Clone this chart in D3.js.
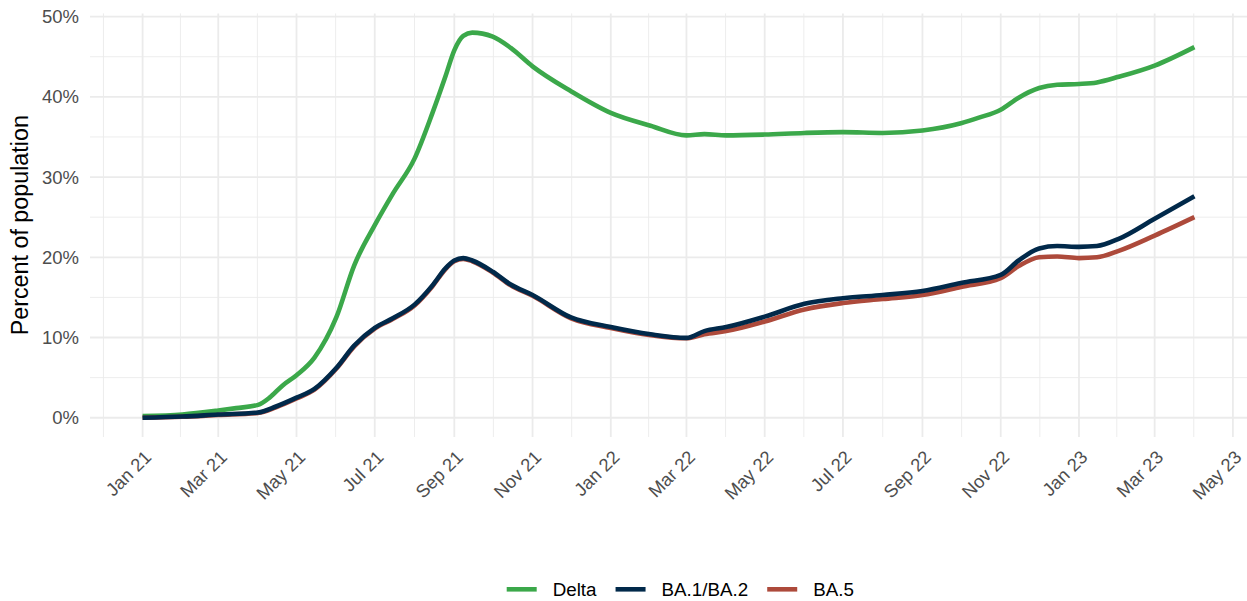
<!DOCTYPE html>
<html>
<head>
<meta charset="utf-8">
<script src="https://cdn.jsdelivr.net/npm/d3@7"></script>
<style>
body{margin:0;background:#fff;}
svg{display:block;font-family:"Liberation Sans",Arial,sans-serif;}
</style>
</head>
<body>
<svg id="chart" width="1247" height="601"></svg>
<script>
// percent of population by variant wave
var seriesNames=["Delta","BA.1/BA.2","BA.5"];
var seriesColors=["#3ba84a","#01294a","#ad4a3b"];
var yTicks=[0,10,20,30,40,50];
var xTickDates=["2021-01-01","2021-03-01","2021-05-01","2021-07-01","2021-09-01","2021-11-01","2022-01-01","2022-03-01","2022-05-01","2022-07-01","2022-09-01","2022-11-01","2023-01-01","2023-03-01","2023-05-01"];

var deltaDates=["2021-01-01","2021-02-01","2021-03-01","2021-03-15","2021-04-01","2021-04-10","2021-04-20","2021-05-01","2021-05-15","2021-06-01","2021-06-15","2021-07-01","2021-07-15","2021-08-01","2021-08-15","2021-08-25","2021-09-01","2021-09-08","2021-09-15","2021-10-01","2021-10-15","2021-11-01","2021-12-01","2022-01-01","2022-02-01","2022-03-01","2022-03-15","2022-04-01","2022-05-01","2022-06-01","2022-07-01","2022-08-01","2022-09-01","2022-10-01","2022-10-15","2022-11-01","2022-11-15","2022-12-01","2022-12-15","2023-01-01","2023-01-15","2023-02-01","2023-03-01","2023-04-01"];
var deltaVals=[0.2,0.4,0.9,1.2,1.6,2.5,4.0,5.3,7.5,12.5,19.0,24.0,27.9,32.3,38.0,42.5,45.8,47.6,48.0,47.5,46.1,43.8,40.7,38.0,36.4,35.2,35.35,35.2,35.3,35.5,35.6,35.5,35.8,36.7,37.4,38.4,39.9,41.1,41.5,41.6,41.8,42.5,43.9,46.2];

var baDates=["2021-01-01","2021-02-01","2021-03-01","2021-04-01","2021-04-15","2021-05-01","2021-05-15","2021-06-01","2021-06-15","2021-07-01","2021-07-15","2021-08-01","2021-08-15","2021-08-25","2021-09-01","2021-09-08","2021-09-15","2021-10-01","2021-10-15","2021-11-01","2021-12-01","2022-01-01","2022-02-01","2022-03-01","2022-03-15","2022-04-01","2022-05-01","2022-06-01","2022-07-01","2022-08-01","2022-09-01","2022-10-01","2022-11-01","2022-11-15","2022-12-01","2022-12-15","2023-01-01","2023-01-15","2023-02-01","2023-03-01","2023-04-01"];
var ba12Vals=[0.0,0.15,0.4,0.65,1.4,2.5,3.6,6.2,9.0,11.2,12.4,14.1,16.5,18.6,19.6,19.9,19.6,18.2,16.6,15.3,12.5,11.3,10.4,9.95,10.8,11.3,12.6,14.2,14.9,15.3,15.8,16.8,17.8,19.6,21.1,21.4,21.3,21.4,22.3,24.8,27.6];
var ba5Vals=[0.0,0.12,0.35,0.6,1.3,2.4,3.5,6.1,8.9,11.1,12.3,14.0,16.4,18.5,19.5,19.8,19.5,18.1,16.5,15.2,12.4,11.2,10.3,9.9,10.4,10.8,12.0,13.5,14.3,14.8,15.3,16.3,17.4,18.9,20.0,20.1,19.9,20.0,20.8,22.7,25.0];

var parse=d3.timeParse("%Y-%m-%d");
var series=[
	{name:seriesNames[0],color:seriesColors[0],values:deltaDates.map(function(d,i){return {date:parse(d),v:deltaVals[i]};})},
	{name:seriesNames[2],color:seriesColors[2],values:baDates.map(function(d,i){return {date:parse(d),v:ba5Vals[i]};})},
	{name:seriesNames[1],color:seriesColors[1],values:baDates.map(function(d,i){return {date:parse(d),v:ba12Vals[i]};})}
];

var svg=d3.select("#chart");
var panel={left:90,right:1247,top:13.4,bottom:437};

// ggplot style 5% expansion
var allPts=[].concat(series[0].values,series[1].values,series[2].values);
var xExt=d3.extent(allPts,function(d){return d.date;});
var yExt=d3.extent(allPts,function(d){return d.v;});
var xSpan=xExt[1]-xExt[0],ySpan=yExt[1]-yExt[0];
var x=d3.scaleTime().domain([new Date(+xExt[0]-xSpan*0.05),new Date(+xExt[1]+xSpan*0.05)]).range([panel.left,panel.right]);
var y=d3.scaleLinear().domain([yExt[0]-ySpan*0.05,yExt[1]+ySpan*0.05]).range([panel.bottom,panel.top]);

var grid=svg.append("g");
var xTicks=xTickDates.map(parse);
// minor breaks at midpoints
var ext=[d3.timeMonth.offset(xTicks[0],-2)].concat(xTicks,[d3.timeMonth.offset(xTicks[xTicks.length-1],2)]);
var xMinor=[];
for(var i=0;i<ext.length-1;i++){xMinor.push(new Date((+ext[i]+ +ext[i+1])/2));}
xMinor=xMinor.filter(function(d){return x(d)>=panel.left&&x(d)<=panel.right;});
var yMinor=[5,15,25,35,45];

grid.selectAll(".ymin").data(yMinor).enter().append("line")
	.attr("x1",panel.left).attr("x2",panel.right).attr("y1",function(d){return y(d);}).attr("y2",function(d){return y(d);})
	.attr("stroke","#ebebeb").attr("stroke-width",0.9);
grid.selectAll(".xmin").data(xMinor).enter().append("line")
	.attr("y1",panel.top).attr("y2",panel.bottom).attr("x1",function(d){return x(d);}).attr("x2",function(d){return x(d);})
	.attr("stroke","#ebebeb").attr("stroke-width",0.9);
grid.selectAll(".ymaj").data(yTicks).enter().append("line")
	.attr("x1",panel.left).attr("x2",panel.right).attr("y1",function(d){return y(d);}).attr("y2",function(d){return y(d);})
	.attr("stroke","#ebebeb").attr("stroke-width",1.8);
grid.selectAll(".xmaj").data(xTicks).enter().append("line")
	.attr("y1",panel.top).attr("y2",panel.bottom).attr("x1",function(d){return x(d);}).attr("x2",function(d){return x(d);})
	.attr("stroke","#ebebeb").attr("stroke-width",1.8);

var line=d3.line().x(function(d){return x(d.date);}).y(function(d){return y(d.v);}).curve(d3.curveMonotoneX);
svg.append("g").selectAll("path").data(series).enter().append("path")
	.attr("d",function(d){return line(d.values);})
	.attr("fill","none").attr("stroke",function(d){return d.color;})
	.attr("stroke-width",4.6).attr("stroke-linejoin","round").attr("stroke-linecap","butt");

// y axis labels
svg.append("g").selectAll("text").data(yTicks).enter().append("text")
	.attr("x",79).attr("y",function(d){return y(d);}).attr("dy","0.35em")
	.attr("text-anchor","end").attr("fill","#4d4d4d").style("font-size","18.5px")
	.text(function(d){return d+"%";});
svg.append("text").attr("transform","translate(28,"+((panel.top+panel.bottom)/2)+") rotate(-90)")
	.attr("text-anchor","middle").attr("fill","#000").style("font-size","23.3px").text("Percent of population");

// x axis labels
var fmt=d3.timeFormat("%b %y");
svg.append("g").selectAll("text").data(xTicks).enter().append("text")
	.attr("transform",function(d){return "translate("+(x(d)+0.5)+",449) rotate(-45)";})
	.attr("text-anchor","end").attr("dy","0.72em").attr("fill","#4d4d4d").style("font-size","18.3px")
	.text(function(d){return fmt(d);});

// legend
var lg=svg.append("g");
var lx=506.7,ly=589.3;
[0,1,2].forEach(function(i){
	lg.append("line").attr("x1",lx).attr("x2",lx+30).attr("y1",ly).attr("y2",ly)
		.attr("stroke",seriesColors[i]).attr("stroke-width",4.6);
	var t=lg.append("text").attr("x",lx+46).attr("y",ly).attr("dy","0.35em")
		.attr("fill","#000").style("font-size","18.8px").text(seriesNames[i]);
	lx=lx+46+t.node().getComputedTextLength()+19;
});
</script>
</body>
</html>
